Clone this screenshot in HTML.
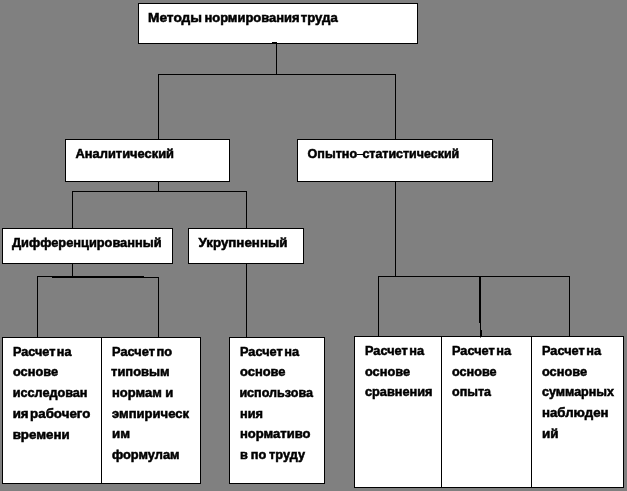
<!DOCTYPE html>
<html><head><meta charset="utf-8">
<style>
html,body{margin:0;padding:0;background:#808080;}
body{width:627px;height:491px;overflow:hidden;position:relative;font-family:"Liberation Sans",sans-serif;}
svg{position:absolute;left:0;top:0;display:block;will-change:transform;}
text{font-family:"Liberation Sans",sans-serif;font-weight:bold;font-size:12px;fill:#000;stroke:#000;stroke-width:0.5px;word-spacing:-2px;}
.b{fill:#fff;stroke:#000;stroke-width:1;shape-rendering:crispEdges;}
.l{stroke:#000;stroke-width:1;shape-rendering:crispEdges;fill:none;}
.k{fill:#000;shape-rendering:crispEdges;}
</style></head><body>
<svg width="627" height="491" viewBox="0 0 627 491">
<rect x="0" y="0" width="627" height="491" fill="#808080"/>
<path class="l" d="M276.5 43V74.5 M158 74.5H396 M158.5 74.5V139 M395.5 74.5V139"/>
<path class="l" d="M158.5 181V191.5 M72 191.5H247 M72.5 191.5V229 M246.5 191.5V229"/>
<path class="l" d="M72.5 263V276.5 M37.5 276V337 M158.5 277V337"/>
<rect class="k" x="37" y="276" width="15" height="1"/><rect class="k" x="52" y="276" width="92" height="2"/><rect class="k" x="144" y="277" width="15" height="1"/>
<path class="l" d="M246.5 263V337"/>
<path class="l" d="M395.5 181V276.5 M378 276.5H570 M378.5 276.5V337 M569.5 276.5V337"/>
<rect class="k" x="479" y="276" width="2" height="47"/><rect class="k" x="480" y="323" width="1" height="7"/><rect class="k" x="480" y="330" width="2" height="7"/>
<rect class="b" x="138.5" y="3.5" width="279" height="40"/>
<rect class="b" x="65.5" y="139.5" width="164" height="42"/>
<rect class="b" x="297.5" y="139.5" width="195" height="42"/>
<rect class="b" x="2.5" y="228.5" width="170" height="35"/>
<rect class="b" x="188.5" y="228.5" width="115" height="35"/>
<rect class="b" x="2.5" y="337.5" width="99" height="146"/>
<rect class="b" x="101.5" y="337.5" width="99" height="146"/>
<rect class="b" x="229.5" y="337.5" width="95" height="146"/>
<rect class="b" x="354.5" y="336.5" width="87" height="151"/>
<rect class="b" x="441.5" y="336.5" width="90" height="151"/>
<rect class="b" x="531.5" y="336.5" width="92" height="151"/>
<rect x="480" y="337" width="1" height="1" fill="#777"/>
<rect class="k" x="357" y="154" width="6" height="1"/>
<rect class="k" x="272" y="42" width="5" height="1"/>
<text x="148" y="21.7" textLength="54" lengthAdjust="spacingAndGlyphs">Методы</text>
<text x="204.4" y="21.7" textLength="95.2" lengthAdjust="spacingAndGlyphs">нормирования</text>
<text x="300.8" y="21.7" textLength="37" lengthAdjust="spacingAndGlyphs">труда</text>
<text x="75.5" y="157.7" textLength="98.5" lengthAdjust="spacingAndGlyphs">Аналитический</text>
<text x="307.5" y="157.7" textLength="49.6" lengthAdjust="spacingAndGlyphs">Опытно</text>
<text x="362.4" y="157.7" textLength="96.8" lengthAdjust="spacingAndGlyphs">статистический</text>
<text x="12" y="246.7" textLength="149.5" lengthAdjust="spacingAndGlyphs">Дифференцированный</text>
<text x="198.5" y="246.7" textLength="89" lengthAdjust="spacingAndGlyphs">Укрупненный</text>
<text x="13" y="355.7" textLength="58.5" lengthAdjust="spacingAndGlyphs">Расчет на</text>
<text x="13" y="375.7" textLength="45" lengthAdjust="spacingAndGlyphs">основе</text>
<text x="12.7" y="396.7" textLength="74.8" lengthAdjust="spacingAndGlyphs">исследован</text>
<text x="12.7" y="417.7" textLength="77.6" lengthAdjust="spacingAndGlyphs">ия рабочего</text>
<text x="12.7" y="438.7" textLength="57" lengthAdjust="spacingAndGlyphs">времени</text>
<text x="112" y="355.7" textLength="60" lengthAdjust="spacingAndGlyphs">Расчет по</text>
<text x="111.1" y="375.7" textLength="58.5" lengthAdjust="spacingAndGlyphs">типовым</text>
<text x="112" y="396.7" textLength="61.3" lengthAdjust="spacingAndGlyphs" style="word-spacing:0px">нормам и</text>
<text x="112" y="417.7" textLength="77" lengthAdjust="spacingAndGlyphs">эмпирическ</text>
<text x="112" y="437.7" textLength="18" lengthAdjust="spacingAndGlyphs">им</text>
<text x="112" y="458.7" textLength="67.5" lengthAdjust="spacingAndGlyphs">формулам</text>
<text x="240" y="355.7" textLength="59" lengthAdjust="spacingAndGlyphs">Расчет на</text>
<text x="240" y="375.7" textLength="45.5" lengthAdjust="spacingAndGlyphs">основе</text>
<text x="239.4" y="396.7" textLength="73.6" lengthAdjust="spacingAndGlyphs">использова</text>
<text x="240" y="417.7" textLength="23" lengthAdjust="spacingAndGlyphs">ния</text>
<text x="240" y="437.7" textLength="70.5" lengthAdjust="spacingAndGlyphs">нормативо</text>
<text x="240" y="458.7" textLength="65" lengthAdjust="spacingAndGlyphs" style="word-spacing:-0.6px">в по труду</text>
<text x="365" y="354.7" textLength="59" lengthAdjust="spacingAndGlyphs">Расчет на</text>
<text x="365" y="375.7" textLength="45" lengthAdjust="spacingAndGlyphs">основе</text>
<text x="365" y="395.7" textLength="67.5" lengthAdjust="spacingAndGlyphs">сравнения</text>
<text x="452" y="354.7" textLength="59" lengthAdjust="spacingAndGlyphs">Расчет на</text>
<text x="452" y="375.7" textLength="44.5" lengthAdjust="spacingAndGlyphs">основе</text>
<text x="452" y="395.7" textLength="39" lengthAdjust="spacingAndGlyphs">опыта</text>
<text x="542" y="354.7" textLength="59" lengthAdjust="spacingAndGlyphs">Расчет на</text>
<text x="542" y="375.7" textLength="45" lengthAdjust="spacingAndGlyphs">основе</text>
<text x="542" y="395.7" textLength="72" lengthAdjust="spacingAndGlyphs">суммарных</text>
<text x="542" y="416.7" textLength="66.5" lengthAdjust="spacingAndGlyphs">наблюден</text>
<text x="542" y="438.4" textLength="16.5" lengthAdjust="spacingAndGlyphs">ий</text>
</svg>
</body></html>
